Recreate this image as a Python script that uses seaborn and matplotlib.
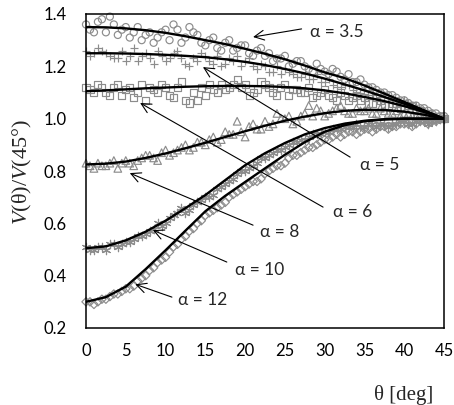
import numpy as np
import pandas as pd
import matplotlib
matplotlib.use("Agg")
import matplotlib.pyplot as plt
import seaborn as sns

# fitted curves, every 2.5 deg
theta_fit = [0, 2.5, 5, 7.5, 10, 12.5, 15, 17.5, 20, 22.5, 25, 27.5, 30, 32.5, 35, 37.5, 40, 42.5, 45]
fit_35 = [1.350, 1.349, 1.345, 1.338, 1.328, 1.315, 1.300, 1.285, 1.267, 1.248, 1.227, 1.203, 1.177, 1.155, 1.127, 1.096, 1.064, 1.032, 1.000]
fit_5 = [1.250, 1.250, 1.249, 1.247, 1.244, 1.240, 1.235, 1.227, 1.217, 1.205, 1.190, 1.173, 1.153, 1.131, 1.108, 1.083, 1.057, 1.029, 1.000]
fit_6 = [1.105, 1.108, 1.112, 1.116, 1.119, 1.122, 1.124, 1.125, 1.125, 1.124, 1.121, 1.116, 1.108, 1.097, 1.083, 1.067, 1.048, 1.025, 1.000]
fit_8 = [0.825, 0.828, 0.836, 0.850, 0.867, 0.887, 0.908, 0.930, 0.952, 0.973, 0.992, 1.008, 1.021, 1.030, 1.034, 1.033, 1.027, 1.015, 1.000]
fit_10 = [0.505, 0.512, 0.535, 0.568, 0.610, 0.658, 0.708, 0.765, 0.822, 0.868, 0.907, 0.940, 0.964, 0.981, 0.992, 0.998, 1.000, 1.000, 1.000]
fit_12 = [0.300, 0.318, 0.358, 0.425, 0.497, 0.572, 0.646, 0.705, 0.758, 0.810, 0.862, 0.910, 0.950, 0.975, 0.990, 0.997, 1.000, 1.000, 1.000]

# measured points at whole degrees ...
theta_pts = list(range(0, 46))
pts_35 = [1.36, 1.33, 1.38, 1.39, 1.32, 1.35, 1.33, 1.30, 1.33, 1.31, 1.34, 1.36, 1.29, 1.35, 1.32, 1.28,
          1.31, 1.26, 1.30, 1.27, 1.28, 1.24, 1.27, 1.25, 1.23, 1.24, 1.21, 1.22, 1.19, 1.21, 1.18, 1.19,
          1.16, 1.17, 1.14, 1.13, 1.12, 1.10, 1.09, 1.08, 1.07, 1.05, 1.04, 1.03, 1.02, 1.01]
pts_5 = [1.26, 1.25, 1.26, 1.24, 1.23, 1.22, 1.27, 1.24, 1.23, 1.26, 1.22, 1.25, 1.23, 1.20, 1.22, 1.24,
         1.21, 1.20, 1.23, 1.24, 1.22, 1.20, 1.21, 1.18, 1.20, 1.19, 1.17, 1.16, 1.15, 1.17, 1.14, 1.13,
         1.12, 1.13, 1.10, 1.11, 1.09, 1.07, 1.08, 1.06, 1.07, 1.04, 1.03, 1.02, 1.01, 1.00]
pts_6 = [1.12, 1.10, 1.12, 1.09, 1.13, 1.11, 1.08, 1.13, 1.12, 1.10, 1.12, 1.08, 1.14, 1.06, 1.07, 1.09,
         1.11, 1.13, 1.12, 1.15, 1.13, 1.10, 1.14, 1.12, 1.09, 1.13, 1.11, 1.10, 1.12, 1.09, 1.11, 1.08,
         1.10, 1.07, 1.09, 1.08, 1.06, 1.07, 1.05, 1.06, 1.04, 1.05, 1.03, 1.02, 1.01, 1.00]
pts_8 = [0.83, 0.81, 0.82, 0.83, 0.81, 0.84, 0.82, 0.85, 0.86, 0.84, 0.88, 0.87, 0.89, 0.88, 0.91, 0.90,
         0.93, 0.92, 0.94, 0.99, 0.93, 0.98, 0.96, 0.97, 1.02, 1.00, 0.98, 1.01, 1.05, 1.04, 1.01, 1.03,
         1.05, 1.02, 1.04, 1.03, 1.02, 1.04, 1.02, 1.03, 1.02, 1.01, 1.02, 1.01, 1.00, 1.00]
pts_10 = [0.51, 0.50, 0.51, 0.52, 0.51, 0.53, 0.54, 0.55, 0.57, 0.60, 0.60, 0.63, 0.66, 0.65, 0.68, 0.70,
          0.71, 0.74, 0.76, 0.79, 0.80, 0.82, 0.85, 0.86, 0.88, 0.89, 0.91, 0.92, 0.93, 0.94, 0.95, 0.96,
          0.96, 0.97, 0.98, 0.97, 0.98, 0.98, 0.97, 0.98, 0.99, 0.98, 0.99, 0.98, 0.99, 1.00]
pts_12 = [0.30, 0.29, 0.31, 0.32, 0.33, 0.35, 0.36, 0.39, 0.42, 0.45, 0.47, 0.51, 0.54, 0.57, 0.60, 0.63,
          0.65, 0.67, 0.70, 0.72, 0.74, 0.76, 0.77, 0.80, 0.82, 0.83, 0.86, 0.87, 0.89, 0.90, 0.92, 0.93,
          0.93, 0.95, 0.94, 0.96, 0.95, 0.97, 0.96, 0.97, 0.98, 0.97, 0.99, 0.98, 0.99, 1.00]

# ... and at half degrees
theta_half = [t + 0.5 for t in range(0, 45)]
half_35 = [1.34, 1.37, 1.33, 1.36, 1.34, 1.31, 1.35, 1.32, 1.29, 1.33, 1.30, 1.34, 1.31, 1.33, 1.29,
           1.30, 1.27, 1.29, 1.26, 1.28, 1.25, 1.26, 1.24, 1.22, 1.23, 1.20, 1.22, 1.20, 1.18, 1.19,
           1.17, 1.18, 1.15, 1.14, 1.15, 1.12, 1.11, 1.10, 1.09, 1.07, 1.06, 1.05, 1.04, 1.02, 1.01]
half_5 = [1.24, 1.27, 1.25, 1.23, 1.26, 1.24, 1.22, 1.25, 1.21, 1.24, 1.23, 1.26, 1.21, 1.23, 1.25,
          1.22, 1.24, 1.21, 1.22, 1.20, 1.23, 1.19, 1.20, 1.18, 1.17, 1.18, 1.16, 1.17, 1.15, 1.14,
          1.15, 1.12, 1.13, 1.11, 1.10, 1.09, 1.08, 1.09, 1.07, 1.05, 1.06, 1.04, 1.03, 1.02, 1.01]
half_6 = [1.11, 1.13, 1.10, 1.12, 1.09, 1.12, 1.10, 1.07, 1.11, 1.13, 1.09, 1.12, 1.07, 1.10, 1.12,
          1.13, 1.10, 1.11, 1.13, 1.12, 1.09, 1.11, 1.13, 1.10, 1.12, 1.09, 1.11, 1.10, 1.08, 1.10,
          1.09, 1.07, 1.09, 1.08, 1.07, 1.06, 1.08, 1.05, 1.06, 1.04, 1.05, 1.03, 1.02, 1.01, 1.01]
half_8 = [0.82, 0.83, 0.82, 0.84, 0.83, 0.83, 0.84, 0.86, 0.85, 0.87, 0.86, 0.88, 0.90, 0.89, 0.91,
          0.92, 0.91, 0.95, 0.94, 0.95, 0.97, 0.96, 0.99, 0.98, 1.00, 1.01, 0.99, 1.02, 1.01, 1.03,
          1.02, 1.04, 1.03, 1.02, 1.03, 1.04, 1.02, 1.03, 1.02, 1.01, 1.02, 1.01, 1.01, 1.00, 1.00]
half_10 = [0.50, 0.51, 0.50, 0.52, 0.52, 0.53, 0.55, 0.56, 0.58, 0.59, 0.62, 0.64, 0.64, 0.67, 0.69,
           0.70, 0.73, 0.75, 0.77, 0.80, 0.81, 0.83, 0.85, 0.87, 0.88, 0.90, 0.91, 0.92, 0.94, 0.94,
           0.95, 0.96, 0.97, 0.97, 0.97, 0.98, 0.97, 0.98, 0.98, 0.99, 0.98, 0.99, 0.99, 0.99, 1.00]
half_12 = [0.30, 0.30, 0.31, 0.33, 0.34, 0.35, 0.38, 0.40, 0.43, 0.46, 0.49, 0.52, 0.55, 0.58, 0.61,
           0.64, 0.66, 0.68, 0.71, 0.73, 0.75, 0.76, 0.79, 0.81, 0.82, 0.85, 0.86, 0.88, 0.89, 0.91,
           0.92, 0.94, 0.94, 0.95, 0.95, 0.96, 0.96, 0.97, 0.97, 0.98, 0.98, 0.98, 0.99, 0.99, 1.00]

labels = ["α = 3.5", "α = 5", "α = 6", "α = 8", "α = 10", "α = 12"]
fits = [fit_35, fit_5, fit_6, fit_8, fit_10, fit_12]
points = [pts_35, pts_5, pts_6, pts_8, pts_10, pts_12]
halves = [half_35, half_5, half_6, half_8, half_10, half_12]

sns.set_style("white")
plt.rcParams['font.family'] = ['Lato', 'DejaVu Sans']
plt.rcParams['mathtext.fontset'] = 'custom'
plt.rcParams['mathtext.it'] = 'Liberation Serif:italic'
plt.rcParams['mathtext.rm'] = 'Liberation Serif'

gray = '#8c8c8c'
# marker, size, hollow?
markers = [('o', 26, True), ('+', 40, False), ('s', 26, True),
           ('^', 30, True), ((6, 2, 0), 36, False), ('D', 18, True)]

fig = plt.figure(figsize=(4.54, 4.05), dpi=100)
ax = fig.add_axes([86 / 454, 1 - 328 / 405, 358 / 454, 314 / 405])

for pts, half, (m, s, hollow) in zip(points, halves, markers):
    x = theta_pts + theta_half
    y = pts + half
    if hollow:
        sns.scatterplot(x=x, y=y, marker=m, s=s, facecolor='none',
                        edgecolor=gray, linewidth=0.85, ax=ax, clip_on=False, zorder=2)
    else:
        sns.scatterplot(x=x, y=y, marker=m, s=s, color=gray,
                        linewidth=0.85, ax=ax, clip_on=False, zorder=2)

for f in fits:
    sns.lineplot(x=theta_fit, y=f, color='black', linewidth=1.7, ax=ax, zorder=3)

# label text position, arrow tail, arrow head (data coords)
annots = [((28.2, 1.331), (27.1, 1.343), (21.0, 1.312)),
          ((34.4, 0.823), (33.2, 0.853), (14.7, 1.197)),
          ((31.0, 0.643), (29.8, 0.662), (6.8, 1.060)),
          ((21.9, 0.566), (21.0, 0.593), (5.5, 0.792)),
          ((18.7, 0.421), (17.7, 0.452), (8.4, 0.574)),
          ((11.6, 0.306), (10.8, 0.318), (6.2, 0.367))]
for lab, (txt, tail, head) in zip(labels, annots):
    ax.annotate('', xy=head, xytext=tail,
                arrowprops=dict(arrowstyle='->,head_length=0.7,head_width=0.35', lw=0.8, color='black',
                                shrinkA=0, shrinkB=0))
    ax.text(txt[0], txt[1], lab, fontsize=12.5, ha='left', va='center')

ax.set_xlim(0, 45)
ax.set_ylim(0.2, 1.4)
ax.set_xticks(np.arange(0, 46, 5))
ax.set_yticks(np.arange(0.2, 1.41, 0.2))
ax.set_yticklabels([f"{v:.1f}" for v in np.arange(0.2, 1.41, 0.2)])
ax.tick_params(direction='in', length=4, width=1.0, labelsize=12, colors='black')
ax.tick_params(axis='x', pad=11)
ax.tick_params(axis='y', pad=14)
for sp in ax.spines.values():
    sp.set_color('black')
    sp.set_linewidth(1.1)

ax.set_xlabel(r'θ [deg]', fontsize=15, family='Liberation Serif', ha='right')
ax.xaxis.set_label_coords((433 - 86) / 358, -(385 - 328) / 314)
ax.set_ylabel(r'$V$(θ)/$V$(45°)', fontsize=16, family='Liberation Serif', va='center')
ax.yaxis.set_label_coords((22 - 86) / 358, (328 - 172) / 314)

fig.savefig('out.png', dpi=100)
